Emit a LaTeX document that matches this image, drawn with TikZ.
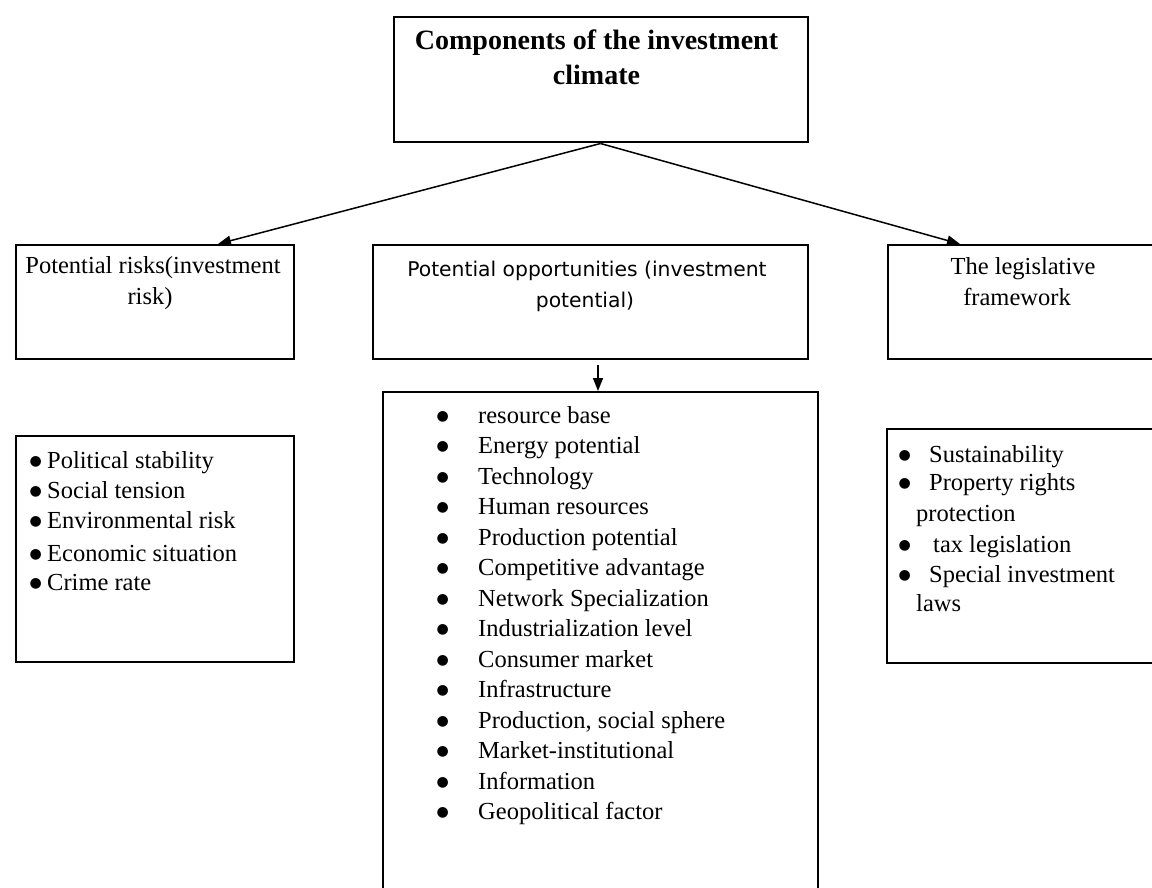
\documentclass[tikz,border=0pt]{standalone}
\usepackage{fontspec}
\setmainfont{Liberation Serif}
\newfontfamily\sansopp{DejaVu Sans}
\usetikzlibrary{arrows.meta}
\newsavebox\bulbox
\newcommand\listbul[1]{\sbox\bulbox{\fontsize{14}{14}\sansopp ●}%
  \makebox[0pt]{\smash{\raisebox{\dimexpr 6.3pt-(\ht\bulbox-\dp\bulbox)/2\relax}{\usebox\bulbox}}}\hspace*{#1}}
\begin{document}
\begin{tikzpicture}[x=1pt,y=-1pt,
  box/.style={draw=black, line width=2pt, anchor=north west, inner sep=0pt},
  conn/.style={line width=1.5pt, -{Triangle[length=13pt,width=10pt]}},
  ttl/.style={anchor=base, inner sep=0pt, font=\fontsize{28}{34}\selectfont\bfseries},
  hd/.style={anchor=base, inner sep=0pt, font=\fontsize{24.5}{30}\selectfont},
  hds/.style={anchor=base, inner sep=0pt, font=\fontsize{20.3}{30}\sansopp},
  item/.style={anchor=base west, inner sep=0pt, font=\fontsize{24.5}{30}\selectfont}]
\path[use as bounding box, fill=white] (0,0) rectangle (1152,888);

% boxes
\node[box, minimum width=414pt, minimum height=125.5pt] (top) at (392.5,16) {};
\node[box, minimum width=278pt, minimum height=114pt] (risk) at (15,244) {};
\node[box, minimum width=435pt, minimum height=114pt] (opp) at (372,244) {};
\node[box, minimum width=278pt, minimum height=114pt] (law) at (887,244) {};
\node[box, minimum width=278pt, minimum height=226pt] (risklist) at (15,435) {};
\node[box, minimum width=435pt, minimum height=520pt] (opplist) at (382,391) {};
\node[box, minimum width=278pt, minimum height=234pt] (lawlist) at (886,428) {};

% titles
\node[ttl] (t1) at (596.5,50) {Components of the investment};
\node[ttl] (t2) at (596.5,85) {climate};
\node[hd] (r1) at (153,273) {Potential risks(investment};
\node[hd] (r2) at (150,304) {risk)};
\node[hds] (o1) at (587,276) {Potential opportunities (investment};
\node[hds] (o2) at (585,307) {potential)};
\node[hd] (g1) at (1023,274) {The legislative};
\node[hd] (g2) at (1017,305) {framework};

% connectors
\draw[conn] (top.south) -- ([xshift=203pt]risk.north west);
\draw[conn] (top.south) -- ([xshift=73pt]law.north west);
\draw[conn] ([xshift=7.5pt,yshift=-5pt]opp.south) -- ([xshift=7.5pt]opp.south |- opplist.north);

% left list
\foreach \t/\y [count=\i] in {Political stability/468, Social tension/498, Environmental risk/528, Economic situation/561, Crime rate/590}{
  \node[item] (li\i) at (35.5,\y) {\listbul{11.5pt}\t};
}

% middle list
\foreach \t [count=\i from 0] in {resource base, Energy potential, Technology, Human resources, Production potential, Competitive advantage, Network Specialization, Industrialization level, Consumer market, Infrastructure, {Production, social sphere}, Market-institutional, Information, Geopolitical factor}{
  \node[item] (mi\i) at (442.5,{423+30.5*\i}) {\listbul{35.5pt}\t};
}

% right list
\foreach \t/\g/\y [count=\i] in {Sustainability/24.5pt/462, Property rights/24.5pt/490, tax legislation/28.5pt/552, Special investment/24.5pt/582}{
  \node[item] (ri\i) at (904.5,\y) {\listbul{\g}\t};
}
\node[item] (rc1) at (916,521) {protection};
\node[item] (rc2) at (916,611) {laws};
\end{tikzpicture}
\end{document}
